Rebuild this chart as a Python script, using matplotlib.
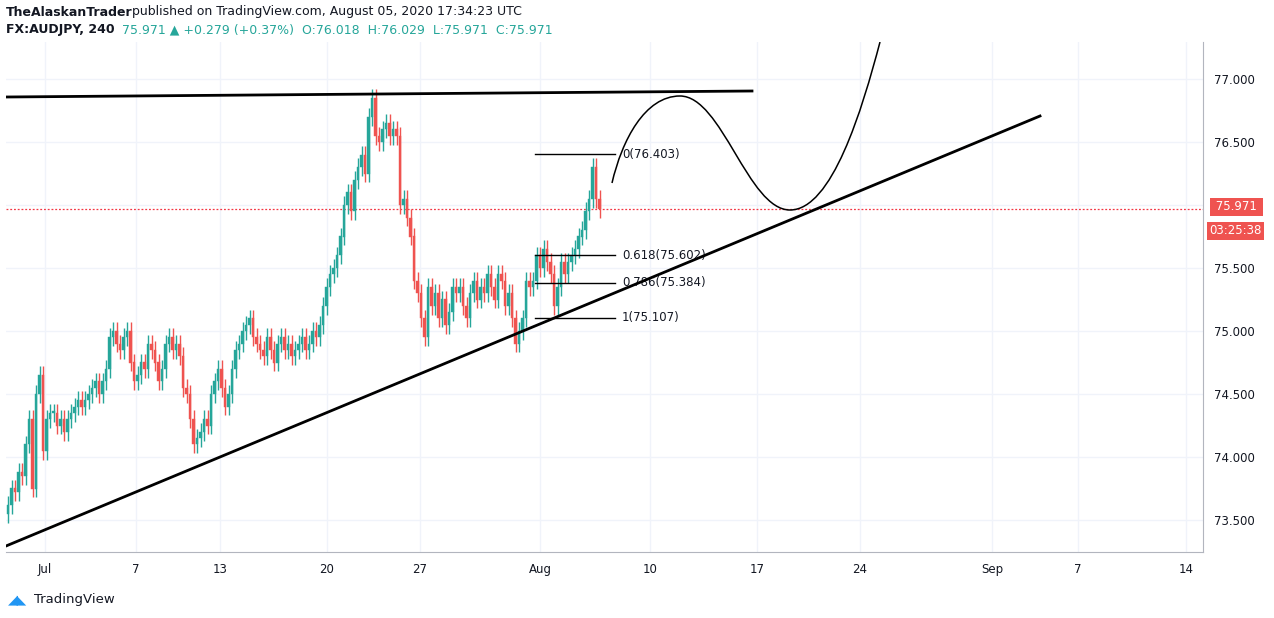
import matplotlib.pyplot as plt
from matplotlib.path import Path
from matplotlib.patches import PathPatch, Rectangle

# 4H closes, AUDJPY, late June -> Aug 5 2020
closes = [
    73.62, 73.75, 73.72, 73.88, 73.85, 74.10, 74.30, 73.75, 74.50, 74.65, 74.05, 74.30, 74.35,
    74.35, 74.25, 74.30, 74.20, 74.30, 74.35, 74.40, 74.45, 74.40, 74.45, 74.50, 74.55, 74.60, 74.50, 74.60, 74.70, 74.95, 75.00,
    74.90, 74.85, 74.95, 75.00, 74.75, 74.60, 74.65, 74.75, 74.70, 74.90, 74.85, 74.75, 74.60, 74.70, 74.90,
    74.95, 74.85, 74.90, 74.80, 74.55, 74.50, 74.30, 74.10, 74.15, 74.20, 74.30, 74.25, 74.50, 74.60, 74.70,
    74.55, 74.40, 74.50, 74.70, 74.85, 74.90, 75.00, 75.05, 75.10, 74.95, 74.90, 74.85, 74.80, 74.95, 74.85, 74.75, 74.90, 74.95,
    74.85, 74.90, 74.80, 74.85, 74.90, 74.95, 74.85, 74.90, 75.00, 74.95, 75.05, 75.20, 75.35, 75.45, 75.50, 75.60, 75.75,
    76.00, 76.10, 75.95, 76.20, 76.30, 76.40, 76.25, 76.70, 76.85, 76.55, 76.50, 76.60, 76.65, 76.55, 76.60,
    76.55, 76.00, 76.05, 75.90, 75.75, 75.40, 75.30, 75.10, 74.95, 75.35, 75.20, 75.30, 75.10, 75.25, 75.05,
    75.15, 75.35, 75.30, 75.35, 75.20, 75.10, 75.30, 75.40, 75.25, 75.35, 75.30, 75.45, 75.35, 75.25, 75.45, 75.40, 75.20, 75.30, 75.10, 74.90,
    75.00, 75.10, 75.40, 75.35, 75.40, 75.60, 75.50, 75.65, 75.55, 75.45, 75.20, 75.35, 75.55, 75.45, 75.55, 75.60, 75.65, 75.75, 75.80, 75.95, 76.05, 76.30, 76.05, 75.97,
]
first_open = 73.55
wick = 0.07

fib_levels = [76.403, 75.602, 75.384, 75.107]
fib_labels = ["0(76.403)", "0.618(75.602)", "0.786(75.384)", "1(75.107)"]
last_price = 75.971

y_ticks = [73.5, 74.0, 74.5, 75.0, 75.5, 76.0, 76.5, 77.0]
x_tick_labels = ["Jul", "7", "13", "20", "27", "Aug", "10", "17", "24", "Sep", "7", "14"]
x_tick_pos = [45, 136, 220, 327, 420, 540, 650, 757, 860, 992, 1078, 1186]

UP, DOWN = "#26a69a", "#ef5350"


def px2price(y):
    return 77.0 - (y - 79) / 126.0


fig = plt.figure(figsize=(12.74, 6.18), dpi=100)
ax = fig.add_axes([6 / 1274, 1 - 552 / 618, (1203 - 6) / 1274, (552 - 42) / 618])
ax.set_xlim(6, 1203)
ax.set_ylim(px2price(552), px2price(42))

opens = [first_open] + closes[:-1]
for i, (o, c) in enumerate(zip(opens, closes)):
    x = 8 + i * 3.5
    col = UP if c >= o else DOWN
    ax.vlines(x, min(o, c) - wick, max(o, c) + wick, color=col, lw=1.0, zorder=3)
    ax.add_patch(Rectangle((x - 1.4, min(o, c)), 2.8, max(abs(c - o), 0.012),
                           fc=col, ec=col, lw=0.3, zorder=4))

# trend lines
ax.plot([6, 752], [px2price(97), px2price(91)], color="black", lw=2, zorder=5)
ax.plot([6, 1040], [px2price(546), px2price(116)], color="black", lw=2, zorder=5)

# projected path
pts = [(612, 183), (622, 140), (645, 96), (680, 96),
       (722, 96), (748, 210), (790, 210),
       (832, 210), (862, 110), (880, 42)]
verts = [(x, px2price(y)) for x, y in pts]
codes = [Path.MOVETO] + [Path.CURVE4] * 9
ax.add_patch(PathPatch(Path(verts, codes), fill=False, color="black", lw=1.1, zorder=5))

# fib levels
for lv, lab in zip(fib_levels, fib_labels):
    ax.plot([535, 615], [lv, lv], color="black", lw=1, zorder=5)
    ax.text(622, lv, lab, fontsize=8.5, va="center", color="#131722")

ax.axhline(last_price, color="#f23645", ls=(0, (1.5, 1.5)), lw=0.9, zorder=2)

ax.set_xticks(x_tick_pos)
ax.set_xticklabels(x_tick_labels)
ax.set_yticks(y_ticks)
# 76.000 sits under the last-price tag, as in the original
ax.set_yticklabels(["" if v == 76.0 else f"{v:.3f}" for v in y_ticks])
ax.yaxis.tick_right()
ax.tick_params(axis="both", length=0, labelsize=8.5, colors="#131722", pad=8)
ax.grid(color="#f0f3fa", lw=1)
for s in ["top", "left"]:
    ax.spines[s].set_visible(False)
for s in ["bottom", "right"]:
    ax.spines[s].set_color("#b2b5be")

ax.text(1.0075, px2price(207), " 75.971 ", transform=ax.get_yaxis_transform(), fontsize=8.5,
        color="white", va="center", ha="left",
        bbox=dict(boxstyle="square,pad=0.2", fc=DOWN, ec="none"))
ax.text(1.0055, px2price(231), "03:25:38", transform=ax.get_yaxis_transform(), fontsize=8.5,
        color="white", va="center", ha="left",
        bbox=dict(boxstyle="square,pad=0.2", fc=DOWN, ec="none"))

fig.text(6 / 1274, 1 - 12 / 618, "TheAlaskanTrader", fontsize=9, va="center",
         color="#131722", fontweight="bold")
fig.text(132 / 1274, 1 - 12 / 618, "published on TradingView.com, August 05, 2020 17:34:23 UTC",
         fontsize=9, va="center", color="#131722")
fig.text(6 / 1274, 1 - 30 / 618, "FX:AUDJPY, 240", fontsize=9, va="center",
         color="#131722", fontweight="bold")
fig.text(122 / 1274, 1 - 30 / 618, "75.971 ▲ +0.279 (+0.37%)  O:76.018  H:76.029  L:75.971  C:75.971",
         fontsize=9, va="center", color=UP)
fig.text(34 / 1274, 1 - 600 / 618, "TradingView", fontsize=9.5, va="center", color="#131722")
fig.text(8 / 1274, 1 - 600 / 618, "◢◣", fontsize=9, va="center", color="#2196f3")

fig.savefig("out.png", dpi=100)
